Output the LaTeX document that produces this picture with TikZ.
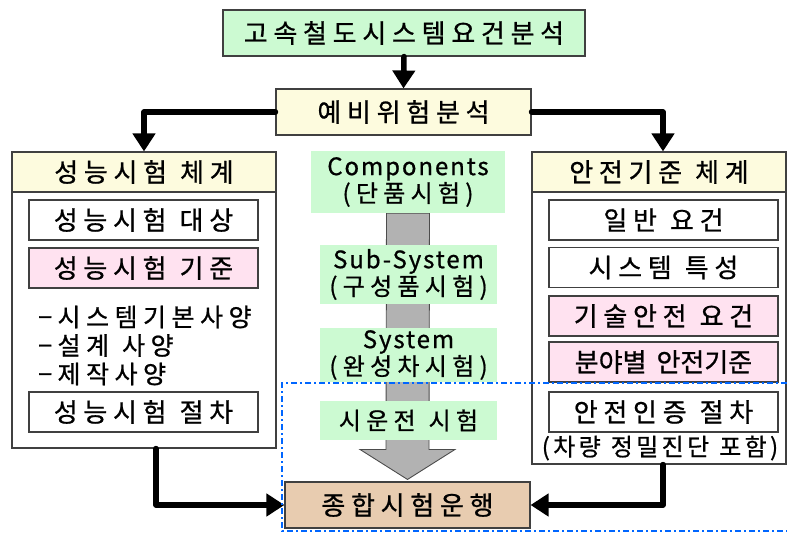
\documentclass[tikz,border=0pt]{standalone}
\usepackage{fontspec}
\setmainfont{Noto Sans CJK KR}[LetterSpace=22, FakeBold=0.8]
\usepackage{tikz}
\usepackage{xcolor}
\usetikzlibrary{arrows.meta,backgrounds}

\definecolor{mint}{RGB}{204,250,210}
\definecolor{cream}{RGB}{253,251,222}
\definecolor{blush}{RGB}{255,226,240}
\definecolor{tan}{RGB}{232,204,176}
\definecolor{arrowgrey}{RGB}{178,178,178}
\definecolor{frameblue}{RGB}{0,102,255}

\newcommand\latin[1]{{\addfontfeature{LetterSpace=8}#1}}
\newcommand\wsp{\hspace{13pt}}

\tikzset{
  box/.style={draw=black!75, line width=1.1pt, inner sep=0pt, align=center,
    font=\fontsize{26}{30}\selectfont},
  itembox/.style={box, minimum width=229pt, minimum height=40pt},
  lbl/.style={fill=mint, inner sep=0pt, align=center, minimum width=177pt,
    font=\fontsize{24}{27}\selectfont},
  flow/.style={line width=5.5pt, line cap=round, line join=round,
    -{Triangle[width=22pt,length=18pt]}},
}

\begin{document}
\begin{tikzpicture}[x=1pt,y=-1pt]
\useasboundingbox (0,0) rectangle (787,533);

% top of the analysis chain
\node[box, fill=mint, minimum width=362pt, minimum height=46pt] (req) at (404,33) {고속철도시스템요건분석};
\node[box, fill=cream, minimum width=255pt, minimum height=46pt] (prelim) at (403.5,112) {예비위험분석};

% performance test side
\node[box, minimum width=264pt, minimum height=296pt] (perf) at (144,300) {};
\node[box, fill=cream, minimum width=264pt, minimum height=40pt] (perfhead) at (144,172) {성능시험\wsp 체계};
\node[itembox] (target) at (143.5,220) {성능시험\wsp 대상};
\node[itembox, fill=blush] (crit) at (143.5,268) {성능시험\wsp 기준};
\node[anchor=west, align=left, inner sep=0pt, font=\fontsize{25}{28.5}\selectfont] (specs) at (38,345.5)
  {−시스템기본사양\\−설계\wsp 사양\\−제작사양};
\node[itembox] (perfproc) at (143.5,412) {성능시험\wsp 절차};

% safety standard side
\node[box, minimum width=254pt, minimum height=312pt] (safe) at (659,308) {};
\node[box, fill=cream, minimum width=254pt, minimum height=40pt] (safehead) at (659,172) {안전기준\wsp 체계};
\node[itembox] (general) at (663.5,220) {일반\wsp 요건};
\node[itembox] (sysprop) at (663.5,267.5) {시스템\wsp 특성};
\node[itembox, fill=blush] (techreq) at (663.5,316) {기술안전\wsp 요건};
\node[itembox, fill=blush] (fieldstd) at (663.5,362) {\addfontfeature{LetterSpace=0}분야별\hspace{10pt}안전기준};
\node[itembox] (certproc) at (663.5,412) {안전인증\wsp 절차};
\node[inner sep=0pt, font=\fontsize{24}{27}\selectfont] (diag) at (660,448)
  {{\addfontfeature{LetterSpace=14}(차량\hspace{10pt}정밀진단\hspace{10pt}포함)}};

% test stages in the middle
\node[lbl, minimum width=194pt, minimum height=62pt] (comp) at (408,182) {\latin{Components}\\(단품시험)};
\node[lbl, minimum height=59pt] (sub) at (408.5,274.5) {\latin{Sub-System}\\(구성품시험)};
\node[lbl, minimum height=54pt] (sys) at (408.5,355) {\latin{System}\\(완성차시험)};
\node[lbl, minimum height=39pt] (trial) at (408.5,420.5) {시운전\wsp 시험};
\node[box, fill=tan, minimum width=245pt, minimum height=46pt] (total) at (407.5,505) {종합시험운행};

\begin{pgfonlayer}{background}
\draw[draw=black!70, line width=0.9pt, fill=arrowgrey]
  ([xshift=-21.5pt]comp.south) -- ([xshift=21.5pt]comp.south)
  -- ([xshift=21.5pt,yshift=32pt]total.north) -- ([xshift=47.5pt,yshift=32pt]total.north)
  -- ([yshift=2pt]total.north)
  -- ([xshift=-47.5pt,yshift=32pt]total.north) -- ([xshift=-21.5pt,yshift=32pt]total.north) -- cycle;
\end{pgfonlayer}

% connectors
\draw[flow] (req.south) -- (prelim.north);
\draw[flow] (prelim.west) -| (perfhead.north);
\draw[flow] (prelim.east) -| ([xshift=4pt]safehead.north);
\draw[flow] ([xshift=12pt]perf.south) |- (total.west);
\draw[flow] ([xshift=4pt]safe.south) |- (total.east);

% trial run frame
\draw[frameblue, line width=1.5pt, dash pattern=on 6pt off 3pt on 2pt off 3pt]
  (787,383) -- (282,383) -- (282,531) -- (787,531);
\end{tikzpicture}
\end{document}
